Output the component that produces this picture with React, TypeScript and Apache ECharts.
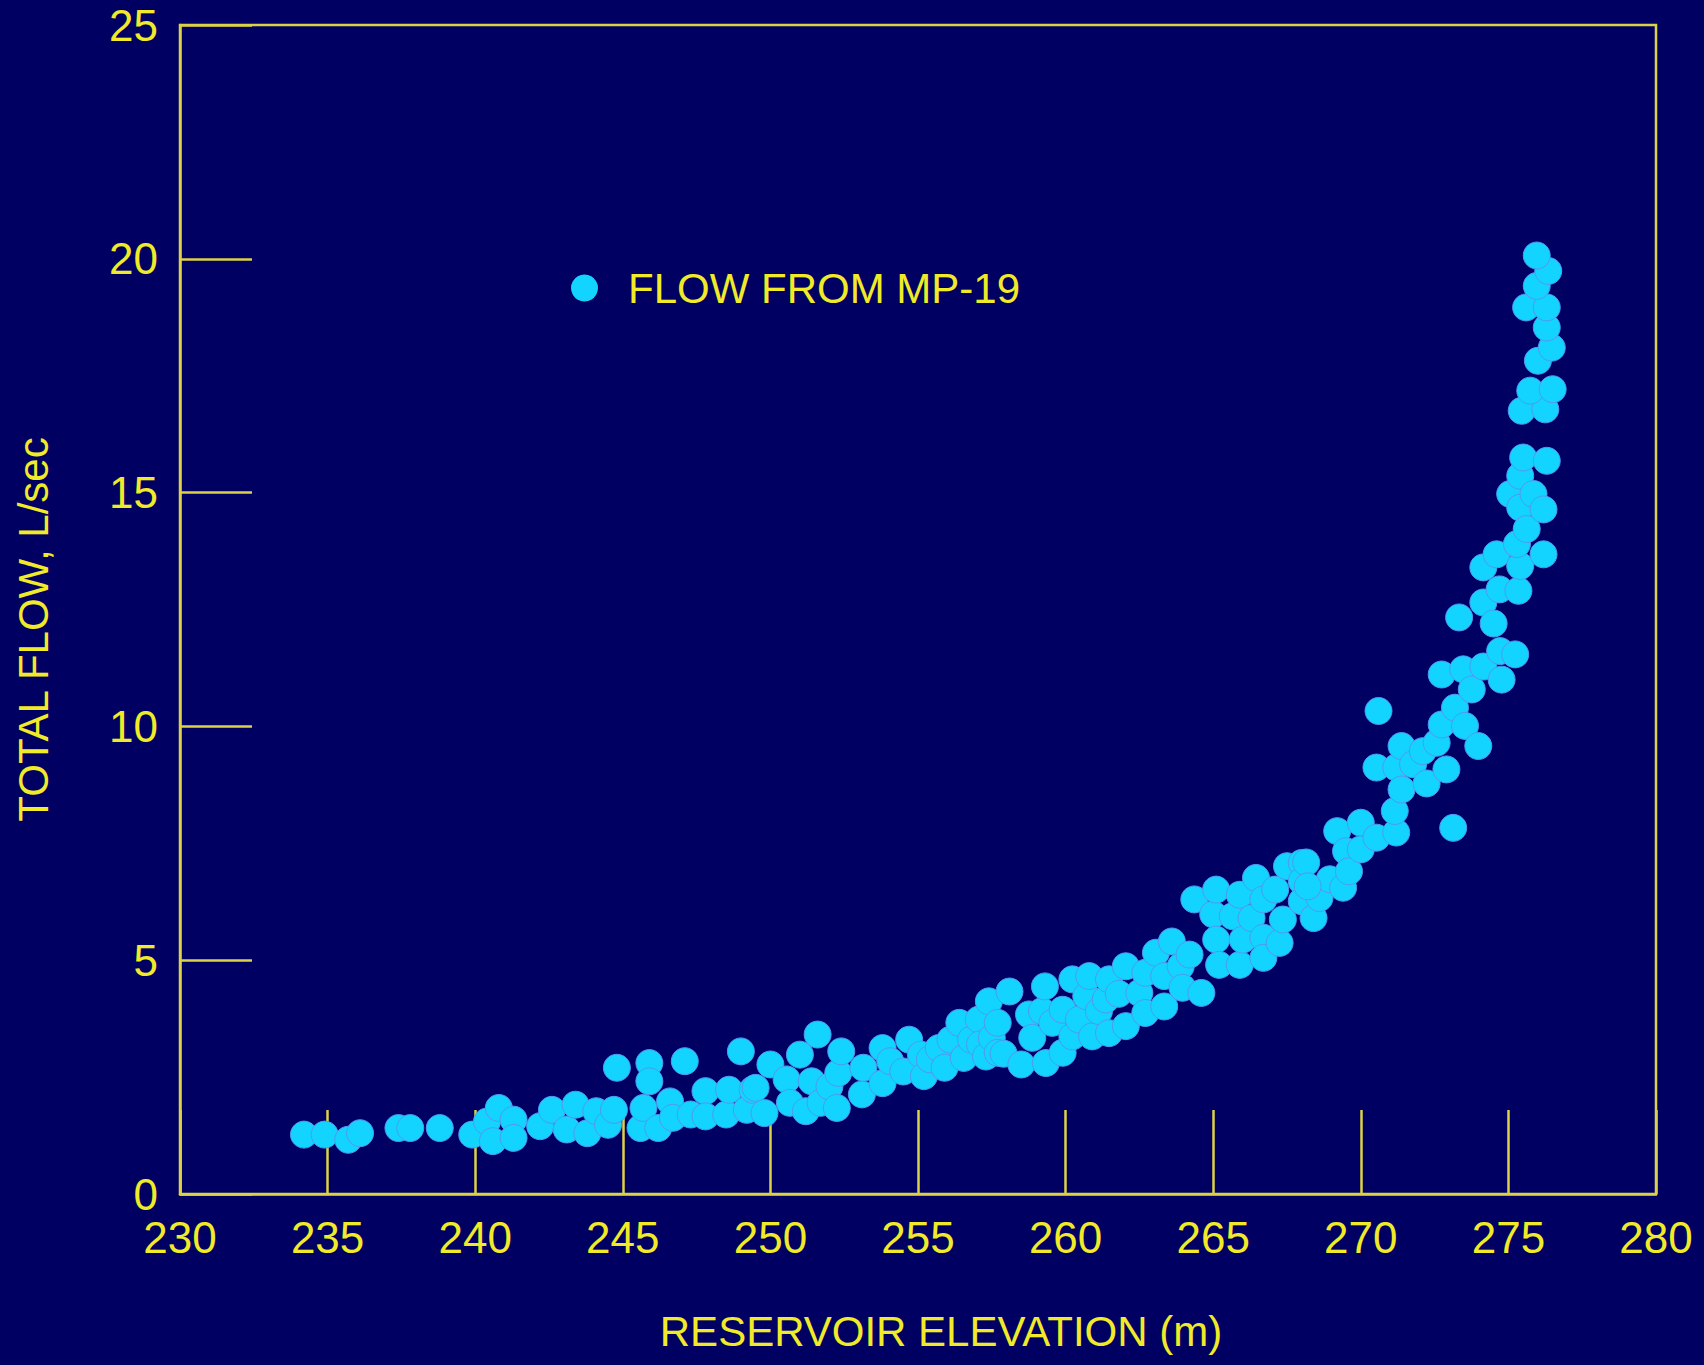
import React, { useEffect, useRef } from "react";
import * as echarts from "echarts";

// Reservoir elevation (m) for each observation
const elevation: number[] = [
  234.2, 234.9, 235.7, 236.1, 237.4, 237.8, 238.8, 239.9, 240.4, 240.8, 240.6, 241.3, 241.3, 242.2, 242.6,
  243.1, 243.4, 243.8, 244.1, 244.5, 244.7, 244.8, 245.6, 245.7, 245.9, 245.9, 246.2, 246.6, 246.7, 247.1,
  247.3, 247.8, 247.8, 248.5, 248.6, 249.0, 249.2, 249.4,
  249.5, 249.8, 250.0, 250.55, 250.66, 251.0, 251.2, 251.4, 251.6, 251.7, 252.0, 252.25, 252.3, 252.4,
  253.1, 253.15, 253.8, 253.8, 254.06, 254.5, 254.7, 255.1, 255.2, 255.4, 255.7, 255.9, 256.1, 256.4,
  256.55, 256.8, 257.06, 257.1, 257.3, 257.4, 257.5, 257.7, 257.7, 257.9, 258.1,
  258.5, 258.76, 258.87, 259.2, 259.3, 259.33, 259.55, 259.9, 259.9, 260.23, 260.23, 260.45, 260.7, 260.8,
  260.9, 261.13, 261.36, 261.47, 261.47, 261.8, 262.04, 262.04, 262.5, 262.7, 262.7, 263.06, 263.34, 263.34,
  263.6, 263.9, 263.96, 264.2, 264.36, 264.6, 265.0, 265.1, 265.1, 265.2, 265.66, 265.9, 265.9, 266.0,
  266.3, 266.45, 266.7, 266.7, 266.7, 267.1, 267.25, 267.36, 267.5, 268.0, 268.0, 268.0, 268.4, 268.6, 268.95,
  268.15, 268.2, 269.2, 269.4, 269.5, 269.6, 270.0, 270.0, 270.53, 270.53, 270.6, 271.2, 271.15, 271.2,
  271.38, 271.38, 271.77, 272.1, 272.23, 272.57, 272.74, 272.74, 272.9, 273.13, 273.19, 273.33, 273.47,
  273.53, 273.76, 273.98, 274.15, 274.15, 274.15, 274.5, 274.6, 274.7, 274.72, 274.77, 275.23, 275.34,
  275.4, 275.06, 275.29, 275.4, 275.4, 275.5, 275.62, 275.85, 276.19, 276.19, 276.3, 275.45, 276.25,
  275.74, 276.5, 276.0, 276.47, 276.3, 275.6, 276.3, 275.96, 276.35, 275.96,
];

// Total flow (L/sec) for each observation
const flow: number[] = [
  1.27, 1.27, 1.16, 1.3, 1.41, 1.41, 1.41, 1.27, 1.55, 1.84, 1.13, 1.59, 1.2, 1.45, 1.8,
  1.38, 1.91, 1.3, 1.77, 1.48, 1.8, 2.7, 1.41, 1.84, 2.8, 2.41, 1.41, 1.98, 1.63, 2.84,
  1.7, 2.2, 1.66, 1.7, 2.23, 3.05, 1.8, 2.23,
  2.27, 1.73, 2.77, 2.45, 1.95, 2.98, 1.77, 2.41, 3.41, 1.95, 2.3, 1.84, 2.59, 3.05,
  2.13, 2.7, 2.37, 3.12, 2.84, 2.62, 3.3, 2.98, 2.52, 2.88, 3.12, 2.7, 3.3, 3.66,
  2.91, 3.3, 3.73, 3.2, 2.94, 4.12, 3.34, 3.66, 3.02, 3.0, 4.33,
  2.77, 3.84, 3.34, 3.91, 4.44, 2.8, 3.66, 3.94, 3.02, 4.59, 3.37, 3.73, 4.23, 4.66,
  3.37, 3.91, 4.16, 4.59, 3.44, 4.28, 4.87, 3.59, 4.3, 4.73, 3.87, 5.16, 4.66, 4.01,
  5.4, 4.87, 4.41, 5.12, 6.3, 4.3, 5.98, 6.51, 5.44, 4.9, 5.94, 6.4, 4.9, 5.44,
  5.9, 6.76, 6.3, 5.48, 5.05, 6.51, 5.37, 5.87, 7.01, 7.08, 6.69, 6.26, 5.9, 6.33, 6.73,
  7.09, 6.58, 7.76, 6.55, 7.33, 6.9, 7.94, 7.37, 7.62, 9.12, 10.33, 7.73, 8.19, 9.12,
  8.65, 9.58, 9.19, 9.47, 8.78, 9.65, 10.04, 11.11, 9.08, 7.83, 10.4, 12.33, 11.22,
  10.01, 10.79, 9.58, 11.28, 12.65, 13.4, 12.2, 13.68, 12.93, 11.61, 11.0, 11.54, 12.9,
  13.43, 14.97, 13.9, 14.68, 15.36, 15.75, 14.22, 14.97, 14.64, 13.68, 15.68, 16.75, 16.78,
  17.18, 17.21, 17.82, 18.1, 18.53, 18.96, 18.96, 19.42, 19.74, 20.07,
];

const xTicks = { min: 230, max: 280, interval: 5 };
const yTicks = { min: 0, max: 25, interval: 5 };

const seriesName = "FLOW FROM MP-19";
const xTitle = "RESERVOIR ELEVATION (m)";
const yTitle = "TOTAL FLOW, L/sec";

const BG = "#000062";
const LINE = "#dcd246";
const TEXT = "#f0ea28";
const DOT = "#12d4ff";
const FONT = "'Liberation Sans', Arial, sans-serif";

export default function App() {
  const ref = useRef<HTMLDivElement>(null);

  useEffect(() => {
    if (!ref.current) return;
    const chart = echarts.init(ref.current, undefined, { renderer: "svg" });
    const data = elevation.map((e, i) => [e, flow[i]]);
    chart.setOption({
      animation: false,
      backgroundColor: BG,
      grid: {
        left: 180,
        right: 48,
        top: 25,
        bottom: 171,
        show: true,
        borderColor: LINE,
        borderWidth: 2.5,
        backgroundColor: "transparent",
      },
      legend: {
        left: 566,
        top: 262,
        itemWidth: 27,
        itemHeight: 27,
        icon: "circle",
        data: [{ name: seriesName, itemStyle: { color: DOT, borderWidth: 0 } }],
        textStyle: {
          color: TEXT,
          fontSize: 42,
          fontFamily: FONT,
          padding: [0, 0, 0, 25],
        },
      },
      xAxis: {
        type: "value",
        min: xTicks.min,
        max: xTicks.max,
        interval: xTicks.interval,
        name: xTitle,
        nameLocation: "middle",
        nameGap: 116,
        nameTextStyle: { color: TEXT, fontSize: 42, fontFamily: FONT, padding: [0, 0, 0, 46] },
        axisLine: { show: true, lineStyle: { color: LINE, width: 2.5 } },
        axisTick: { show: true, inside: true, length: 84, lineStyle: { color: LINE, width: 2.5 } },
        axisLabel: { color: TEXT, fontSize: 44, fontFamily: FONT, margin: 21 },
        splitLine: { show: false },
      },
      yAxis: {
        type: "value",
        min: yTicks.min,
        max: yTicks.max,
        interval: yTicks.interval,
        name: yTitle,
        nameLocation: "middle",
        nameGap: 126,
        nameTextStyle: { color: TEXT, fontSize: 42, fontFamily: FONT, padding: [0, 40, 0, 0] },
        axisLine: { show: true, lineStyle: { color: LINE, width: 2.5 } },
        axisTick: { show: true, inside: true, length: 72, lineStyle: { color: LINE, width: 2.5 } },
        axisLabel: { color: TEXT, fontSize: 44, fontFamily: FONT, margin: 22 },
        splitLine: { show: false },
      },
      series: [
        {
          name: seriesName,
          type: "scatter",
          data,
          symbol: "circle",
          symbolSize: 27,
          itemStyle: {
            color: DOT,
            borderColor: "#4f9af2",
            borderWidth: 1,
            opacity: 1,
          },
        },
      ],
    });
    return () => chart.dispose();
  }, []);

  return (
    <div
      ref={ref}
      style={{ position: "fixed", left: 0, top: 0, width: 1704, height: 1365, background: BG }}
    />
  );
}
